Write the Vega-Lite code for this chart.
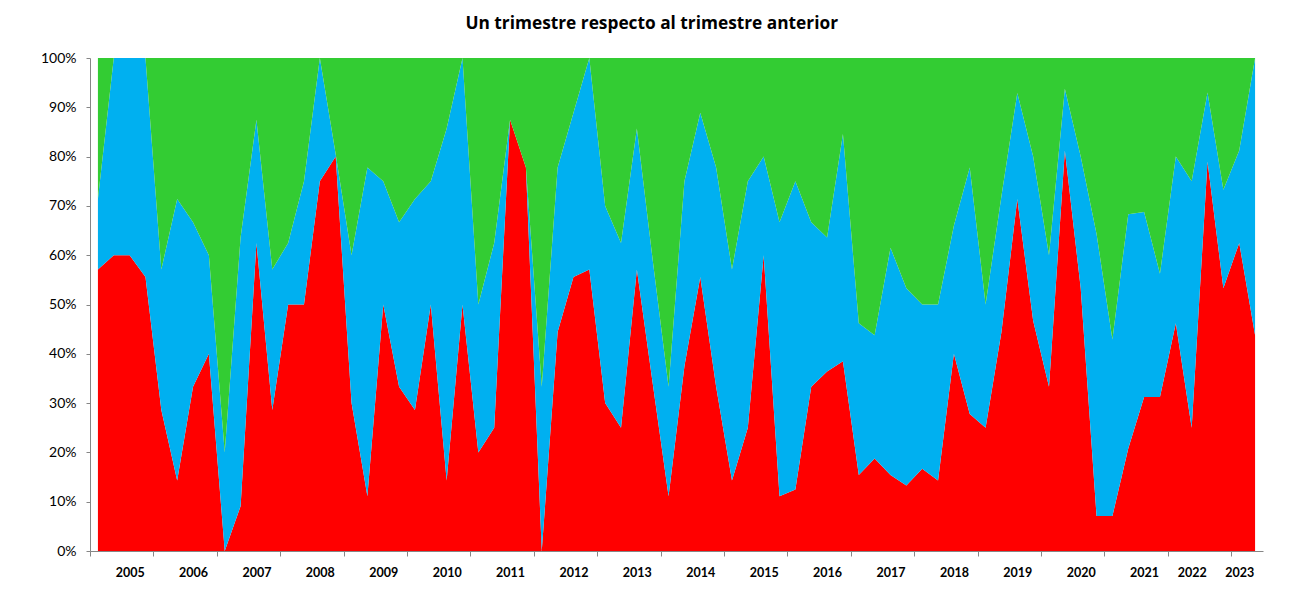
{
  "$schema": "https://vega.github.io/schema/vega-lite/v6.json",
  "autosize": "none",
  "width": 1173,
  "height": 493,
  "padding": {"left": 90, "top": 58, "right": 41, "bottom": 48},
  "background": "white",
  "config": {"view": {"stroke": null}, "font": "Lato"},
  "title": {
    "text": "Un trimestre respecto al trimestre anterior",
    "font": "Open Sans",
    "fontSize": 17.3,
    "fontWeight": "bold",
    "color": "black",
    "anchor": "middle",
    "frame": "bounds",
    "baseline": "alphabetic",
    "offset": 5
  },
  "data": {
    "values": [
      {"t": 0, "rojo": 0.571, "azul": 0.143, "verde": 0.286},
      {"t": 1, "rojo": 0.6, "azul": 0.4, "verde": 0},
      {"t": 2, "rojo": 0.6, "azul": 0.4, "verde": 0},
      {"t": 3, "rojo": 0.556, "azul": 0.444, "verde": 0},
      {"t": 4, "rojo": 0.286, "azul": 0.285, "verde": 0.429},
      {"t": 5, "rojo": 0.143, "azul": 0.571, "verde": 0.286},
      {"t": 6, "rojo": 0.333, "azul": 0.334, "verde": 0.333},
      {"t": 7, "rojo": 0.4, "azul": 0.2, "verde": 0.4},
      {"t": 8, "rojo": 0, "azul": 0.2, "verde": 0.8},
      {"t": 9, "rojo": 0.091, "azul": 0.545, "verde": 0.364},
      {"t": 10, "rojo": 0.625, "azul": 0.25, "verde": 0.125},
      {"t": 11, "rojo": 0.286, "azul": 0.285, "verde": 0.429},
      {"t": 12, "rojo": 0.5, "azul": 0.125, "verde": 0.375},
      {"t": 13, "rojo": 0.5, "azul": 0.25, "verde": 0.25},
      {"t": 14, "rojo": 0.75, "azul": 0.25, "verde": 0},
      {"t": 15, "rojo": 0.8, "azul": 0.005, "verde": 0.195},
      {"t": 16, "rojo": 0.3, "azul": 0.3, "verde": 0.4},
      {"t": 17, "rojo": 0.111, "azul": 0.667, "verde": 0.222},
      {"t": 18, "rojo": 0.5, "azul": 0.25, "verde": 0.25},
      {"t": 19, "rojo": 0.333, "azul": 0.334, "verde": 0.333},
      {"t": 20, "rojo": 0.286, "azul": 0.428, "verde": 0.286},
      {"t": 21, "rojo": 0.5, "azul": 0.25, "verde": 0.25},
      {"t": 22, "rojo": 0.143, "azul": 0.714, "verde": 0.143},
      {"t": 23, "rojo": 0.5, "azul": 0.5, "verde": 0},
      {"t": 24, "rojo": 0.2, "azul": 0.3, "verde": 0.5},
      {"t": 25, "rojo": 0.25, "azul": 0.375, "verde": 0.375},
      {"t": 26, "rojo": 0.875, "azul": 0, "verde": 0.125},
      {"t": 27, "rojo": 0.778, "azul": 0, "verde": 0.222},
      {"t": 28, "rojo": 0, "azul": 0.333, "verde": 0.667},
      {"t": 29, "rojo": 0.444, "azul": 0.334, "verde": 0.222},
      {"t": 30, "rojo": 0.556, "azul": 0.333, "verde": 0.111},
      {"t": 31, "rojo": 0.571, "azul": 0.429, "verde": 0},
      {"t": 32, "rojo": 0.3, "azul": 0.4, "verde": 0.3},
      {"t": 33, "rojo": 0.25, "azul": 0.375, "verde": 0.375},
      {"t": 34, "rojo": 0.571, "azul": 0.286, "verde": 0.143},
      {"t": 35, "rojo": 0.34, "azul": 0.25, "verde": 0.41},
      {"t": 36, "rojo": 0.111, "azul": 0.222, "verde": 0.667},
      {"t": 37, "rojo": 0.375, "azul": 0.375, "verde": 0.25},
      {"t": 38, "rojo": 0.556, "azul": 0.333, "verde": 0.111},
      {"t": 39, "rojo": 0.333, "azul": 0.445, "verde": 0.222},
      {"t": 40, "rojo": 0.143, "azul": 0.428, "verde": 0.429},
      {"t": 41, "rojo": 0.25, "azul": 0.5, "verde": 0.25},
      {"t": 42, "rojo": 0.6, "azul": 0.2, "verde": 0.2},
      {"t": 43, "rojo": 0.111, "azul": 0.556, "verde": 0.333},
      {"t": 44, "rojo": 0.125, "azul": 0.625, "verde": 0.25},
      {"t": 45, "rojo": 0.333, "azul": 0.334, "verde": 0.333},
      {"t": 46, "rojo": 0.364, "azul": 0.272, "verde": 0.364},
      {"t": 47, "rojo": 0.385, "azul": 0.461, "verde": 0.154},
      {"t": 48, "rojo": 0.154, "azul": 0.308, "verde": 0.538},
      {"t": 49, "rojo": 0.1875, "azul": 0.25, "verde": 0.5625},
      {"t": 50, "rojo": 0.154, "azul": 0.461, "verde": 0.385},
      {"t": 51, "rojo": 0.133, "azul": 0.4, "verde": 0.467},
      {"t": 52, "rojo": 0.167, "azul": 0.333, "verde": 0.5},
      {"t": 53, "rojo": 0.143, "azul": 0.357, "verde": 0.5},
      {"t": 54, "rojo": 0.4, "azul": 0.26, "verde": 0.34},
      {"t": 55, "rojo": 0.278, "azul": 0.5, "verde": 0.222},
      {"t": 56, "rojo": 0.25, "azul": 0.25, "verde": 0.5},
      {"t": 57, "rojo": 0.444, "azul": 0.276, "verde": 0.28},
      {"t": 58, "rojo": 0.714, "azul": 0.215, "verde": 0.071},
      {"t": 59, "rojo": 0.467, "azul": 0.333, "verde": 0.2},
      {"t": 60, "rojo": 0.333, "azul": 0.267, "verde": 0.4},
      {"t": 61, "rojo": 0.8125, "azul": 0.125, "verde": 0.0625},
      {"t": 62, "rojo": 0.533, "azul": 0.267, "verde": 0.2},
      {"t": 63, "rojo": 0.071, "azul": 0.572, "verde": 0.357},
      {"t": 64, "rojo": 0.071, "azul": 0.358, "verde": 0.571},
      {"t": 65, "rojo": 0.208, "azul": 0.475, "verde": 0.317},
      {"t": 66, "rojo": 0.3125, "azul": 0.375, "verde": 0.3125},
      {"t": 67, "rojo": 0.3125, "azul": 0.25, "verde": 0.4375},
      {"t": 68, "rojo": 0.462, "azul": 0.338, "verde": 0.2},
      {"t": 69, "rojo": 0.25, "azul": 0.5, "verde": 0.25},
      {"t": 70, "rojo": 0.79, "azul": 0.14, "verde": 0.07},
      {"t": 71, "rojo": 0.533, "azul": 0.2, "verde": 0.267},
      {"t": 72, "rojo": 0.625, "azul": 0.1875, "verde": 0.1875},
      {"t": 73, "rojo": 0.4375, "azul": 0.5625, "verde": 0}
    ]
  },
  "transform": [
    {"fold": ["rojo", "azul", "verde"], "as": ["serie", "valor"]},
    {
      "lookup": "serie",
      "from": {
        "data": {"values": [
          {"serie": "rojo", "orden": 1},
          {"serie": "azul", "orden": 2},
          {"serie": "verde", "orden": 3}
        ]},
        "key": "serie",
        "fields": ["orden"]
      }
    }
  ],
  "mark": {"type": "area", "interpolate": "linear"},
  "encoding": {
    "x": {
      "field": "t",
      "type": "quantitative",
      "scale": {"domain": [-0.5, 73.5], "nice": false, "zero": false},
      "axis": {
        "title": null,
        "grid": false,
        "values": [-0.5, 3.5, 7.5, 11.5, 15.5, 19.5, 23.5, 27.5, 31.5, 35.5, 39.5, 43.5, 47.5, 51.5, 55.5, 59.5, 63.5, 67.5, 71.5, 2, 6, 10, 14, 18, 22, 26, 30, 34, 38, 42, 46, 50, 54, 58, 62, 66, 69, 72],
        "labelExpr": "datum.value == 69 ? '2022' : datum.value == 72 ? '2023' : (datum.value % 1 != 0 ? '' : '' + (2005 + (datum.value - 2) / 4))",
        "tickOpacity": {"expr": "datum.value % 1 != 0 ? 1 : 0"},
        "labelOverlap": false,
        "labelFlush": false,
        "labelFont": "Lato",
        "labelFontWeight": "bold",
        "labelFontSize": 12.5,
        "labelColor": "black",
        "labelPadding": 10,
        "tickSize": 5,
        "tickColor": "#868686",
        "domainColor": "#868686",
        "tickWidth": 1,
        "domainWidth": 1
      }
    },
    "y": {
      "field": "valor",
      "type": "quantitative",
      "stack": "normalize",
      "scale": {"domain": [0, 1], "nice": false},
      "axis": {
        "title": null,
        "grid": false,
        "values": [0, 0.1, 0.2, 0.3, 0.4, 0.5, 0.6, 0.7, 0.8, 0.9, 1],
        "format": ".0%",
        "labelFont": "Lato",
        "labelFontSize": 14,
        "labelColor": "black",
        "labelPadding": 10,
        "tickSize": 4,
        "tickColor": "#868686",
        "domainColor": "#868686"
      }
    },
    "color": {
      "field": "serie",
      "type": "nominal",
      "scale": {"domain": ["rojo", "azul", "verde"], "range": ["#FF0000", "#00B0F0", "#33CC33"]},
      "legend": null
    },
    "order": {"field": "orden", "type": "quantitative", "sort": "ascending"}
  }
}
